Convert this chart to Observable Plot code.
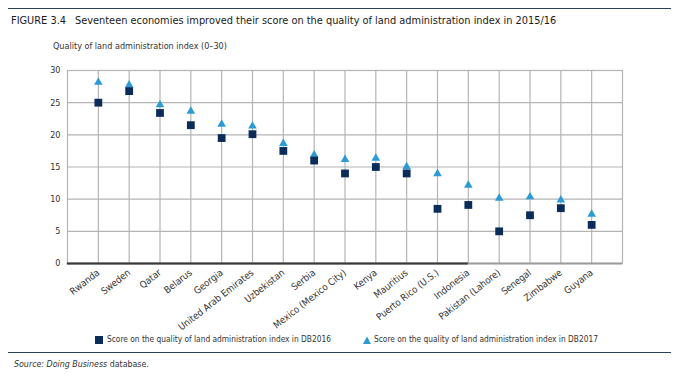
<!DOCTYPE html>
<html>
<head>
<meta charset="utf-8">
<script src="https://cdn.jsdelivr.net/npm/d3@7"></script>
<script src="https://cdn.jsdelivr.net/npm/@observablehq/plot@0.6"></script>
<style>
  html, body { margin: 0; padding: 0; background: #fff; }
  body { width: 679px; height: 377px; position: relative; overflow: hidden;
         font-family: "DejaVu Sans Condensed", "DejaVu Sans", sans-serif; font-stretch: condensed; color: #222; }
  .abs { position: absolute; white-space: nowrap; }
  .rule { position: absolute; left: 8px; width: 663px; height: 0; border-top: 1.5px solid #2b3f58; }
  #chart { position: absolute; left: 0; top: 55px; }
  #chart svg { font-family: "DejaVu Sans Condensed", "DejaVu Sans", sans-serif; font-stretch: condensed; }
  .leg { position: absolute; top: 334px; font-size: 8.3px; color: #333; white-space: nowrap; }
  .sym { position: absolute; top: 336px; }
</style>
</head>
<body>
<div class="rule" style="top:8px"></div>
<div class="abs" style="left:11px; top:14px; font-size:10.9px; color:#1a1a1a;">FIGURE 3.4<span style="display:inline-block;width:9px"></span>Seventeen economies improved their score on the quality of land administration index in 2015/16</div>
<div class="abs" style="left:53px; top:41px; font-size:9px; color:#333;">Quality of land administration index (0–30)</div>
<div id="chart"></div>
<svg class="sym" style="left:95px" width="8" height="8"><rect width="8" height="8" fill="#0b2b58"/></svg>
<div class="leg" style="left:107px">Score on the quality of land administration index in DB2016</div>
<svg class="sym" style="left:363px" width="8" height="8"><polygon points="4,0.5 8,8 0,8" fill="#2b9bd6"/></svg>
<div class="leg" style="left:374px">Score on the quality of land administration index in DB2017</div>
<div class="rule" style="top:352px"></div>
<div class="abs" style="left:14px; top:359px; font-size:8.8px; color:#333;"><i>Source: Doing Business</i> database.</div>
<script>
const economies = ["Rwanda","Sweden","Qatar","Belarus","Georgia","United Arab Emirates","Uzbekistan","Serbia","Mexico (Mexico City)","Kenya","Mauritius","Puerto Rico (U.S.)","Indonesia","Pakistan (Lahore)","Senegal","Zimbabwe","Guyana"];
const db2016 = [25, 26.8, 23.4, 21.5, 19.5, 20.1, 17.5, 16, 14, 15, 14, 8.5, 9.1, 5, 7.5, 8.6, 6];
const db2017 = [28, 27.6, 24.5, 23.5, 21.5, 21.2, 18.5, 16.7, 16, 16.2, 14.9, 13.8, 12, 10, 10.2, 9.7, 7.5];
const yTicks = [0, 5, 10, 15, 20, 25, 30];

const rows = economies.map((e, i) => ({economy: e, v16: db2016[i], v17: db2017[i]}));

const chart = Plot.plot({
  width: 679,
  height: 278,
  marginLeft: 67,
  marginRight: 57,
  marginTop: 15,
  marginBottom: 70,
  style: {fontSize: "9px", color: "#333", background: "transparent"},
  x: {type: "point", domain: economies, padding: 1, round: false, label: null},
  y: {domain: [0, 30], ticks: yTicks, label: null},
  marks: [
    Plot.gridY(yTicks, {stroke: "#b4b4b4", strokeOpacity: 1, strokeWidth: 1.2}),
    Plot.gridX(economies, {stroke: "#b4b4b4", strokeOpacity: 1, strokeWidth: 1.2}),
    Plot.frame({stroke: "#b4b4b4", strokeWidth: 1.2}),
    Plot.ruleY([0], {stroke: "#9a9a9a", strokeWidth: 2}),
    Plot.ruleY([0], {x1: () => economies[0], x2: () => "Indonesia", insetLeft: -31, stroke: "#3a3a3a", strokeWidth: 2}),
    Plot.axisY({ticks: yTicks, tickSize: 0, tickPadding: 7, label: null}),
    Plot.axisX({tickSize: 0, tickPadding: 8, tickRotate: -38, fontSize: 9.6, label: null}),
    Plot.dot(rows, {x: "economy", y: "v17", symbol: "triangle", r: 3.2, fill: "#2b9bd6", stroke: "none", dy: -1}),
    Plot.dot(rows, {x: "economy", y: "v16", symbol: "square", r: 4.4, fill: "#0b2b58", stroke: "none"})
  ]
});
document.getElementById("chart").appendChild(chart);
</script>
</body>
</html>
